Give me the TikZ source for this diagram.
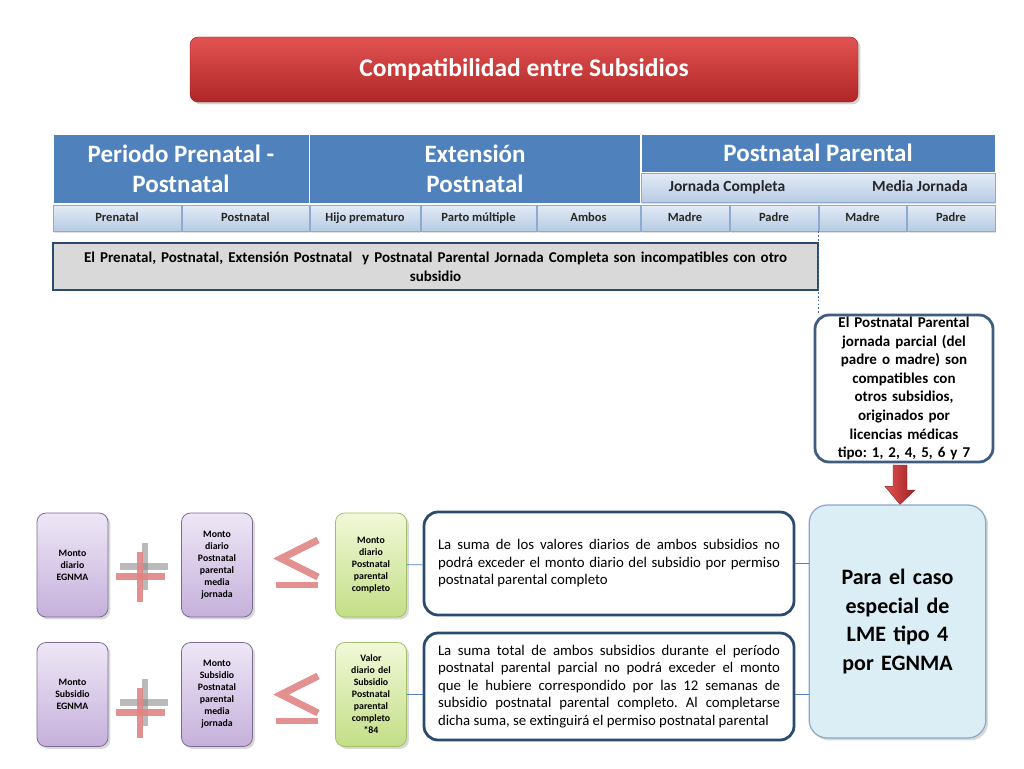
\documentclass[tikz,border=0pt]{standalone}
\usepackage{fontspec}
\setmainfont{Carlito}
\usepackage{xcolor}
\usepackage{tikz}
\usetikzlibrary{shapes,shadows,calc}

\definecolor{titlered1}{HTML}{E25252}
\definecolor{titlered2}{HTML}{B02626}
\definecolor{headblue}{HTML}{4F81BD}
\definecolor{cellblue1}{HTML}{E3EBF6}
\definecolor{cellblue2}{HTML}{B7CBE4}
\definecolor{cellline}{HTML}{8FAAD0}
\definecolor{navy}{HTML}{2B4A70}
\definecolor{graybox}{HTML}{D9D9D9}
\definecolor{lila1}{HTML}{EEE7F6}
\definecolor{lila2}{HTML}{C5B0DB}
\definecolor{lilaline}{HTML}{7D6A96}
\definecolor{lima1}{HTML}{F1F8D8}
\definecolor{lima2}{HTML}{C3DE86}
\definecolor{limaline}{HTML}{A2BF6A}
\definecolor{skyfill}{HTML}{DBEDF5}
\definecolor{skyline}{HTML}{89A8C8}
\definecolor{signpink}{HTML}{E08484}

\newcommand{\fsz}[2]{\fontsize{#1}{#2}\selectfont}
\frenchspacing

\begin{document}
\begin{tikzpicture}[x=1pt,y=-1pt]
		\tikzstyle{titlebox}=[rounded corners=8pt, top color=titlered1, bottom color=titlered2, draw=titlered2!80!black, text=white, font=\fsz{25.5}{30}\bfseries, drop shadow={opacity=0.35}]
		\tikzstyle{head}=[fill=headblue, draw=white, line width=1pt, text=white, align=center, font=\fsz{25}{30}\bfseries]
		\tikzstyle{cell}=[top color=cellblue1, bottom color=cellblue2, draw=cellline, line width=0.6pt, minimum height=26, inner sep=0pt, text height=9pt, text depth=2.5pt, font=\fsz{12.5}{14}\bfseries, text=black!85, drop shadow={opacity=0.25, shadow xshift=1pt, shadow yshift=-1.5pt}]
		\tikzstyle{jtext}=[inner sep=0pt, text height=11pt, text depth=3pt, font=\fsz{15.5}{18}\bfseries, text=black!85]
		\tikzstyle{monto}=[rounded corners=9pt, top color=lila1, bottom color=lila2, draw=lilaline, line width=0.8pt, minimum width=71, minimum height=104, text width=68, align=center, inner sep=0pt, font=\fsz{9.8}{12}\bfseries, drop shadow={opacity=0.3}]
		\tikzstyle{tope}=[monto, top color=lima1, bottom color=lima2, draw=limaline]
		\tikzstyle{regla}=[rounded corners=14pt, draw=navy, line width=2.8pt, fill=white, minimum width=370, text width=342, align=justify, font=\fsz{14.8}{17.5}]
		\tikzstyle{link}=[draw=headblue, line width=0.8pt]
		\tikzstyle{signo}=[fill=signpink, opacity=0.9]
		\tikzstyle{sombra}=[fill=black!45, opacity=0.6]

	\useasboundingbox (0,0) rectangle (1024,768);

	% title
	\node [titlebox, minimum width=668, minimum height=65] (title) at (524,69.5) {Compatibilidad entre Subsidios};

	% header table
	\node [head, minimum width=256, minimum height=69] (prenatal) at (181,168.5) {Periodo Prenatal -\\Postnatal};
	\node [head, minimum width=331, minimum height=69] (extension) at (475,168.5) {Extensión\\Postnatal};
	\node [head, minimum width=354, minimum height=38] (parental) at (818,153) {Postnatal Parental};
	\node [cell, minimum width=354, minimum height=29] (jornadas) at (818,187.5) {};
	\node [jtext] (jc) at (727,187.5) {Jornada Completa};
	\node [jtext] (mj) at (920,187.5) {Media Jornada};

	\foreach \nm/\xa/\xb/\txt in {pre/53/181/Prenatal, post/182/309/Postnatal, hijo/310/420/Hijo prematuro,
		parto/421/536/Parto múltiple, ambos/537/640/Ambos, madreA/641/729/Madre, padreA/730/818/Padre,
		madreB/819/906/Madre, padreB/907/995/Padre}
		\node [cell, minimum width=\xb-\xa] (\nm) at ({(\xa+\xb)/2},218) {\txt};

	% incompatibility note
	\node [draw=navy, line width=2.5pt, fill=graybox, minimum width=765, minimum height=47, text width=755, align=center, inner sep=0pt, font=\fsz{15}{19}\bfseries] (incomp) at (435.5,266.5)
		{El Prenatal, Postnatal, Extensión Postnatal \ y Postnatal Parental Jornada Completa son incompatibles con otro\\subsidio};

	\node [rounded corners=14pt, draw=navy!90, line width=2.8pt, fill=white, minimum width=178, minimum height=147, text width=172, align=center, inner sep=0pt, font=\fsz{15}{18.6}\bfseries] (compat) at (904,388.5)
		{El Postnatal Parental\\jornada parcial (del\\padre o madre) son\\compatibles con\\otros subsidios,\\originados por\\licencias médicas\\tipo: 1, 2, 4, 5, 6 y 7};

	\coordinate (split) at (padreA.south east);
	\draw [headblue!80!black, line width=1.6pt, dash pattern=on 1.6pt off 2.2pt] (split) -- (split |- compat.north);

	% special case
	\node [rounded corners=18pt, fill=skyfill, draw=skyline, line width=1.2pt, minimum width=175, minimum height=233, text width=170, align=center, font=\fsz{22}{28.5}\bfseries, drop shadow={opacity=0.3}] (lme) at (897.5,621.5)
		{Para el caso\\especial de\\LME tipo 4\\por EGNMA};

	\coordinate (arrtop) at (900,465);
	\shade [left color=titlered1, right color=titlered2!90!black, draw=titlered2!80!black, line width=0.4pt]
		(arrtop) ++(-7,0) -- ++(14,0) -- ++(0,25) -- ++(8,0) -- (arrtop |- lme.north) -- ++(-15,-18) -- ++(8,0) -- cycle;

	% first rule
	\node [monto] (egnma1) at (72.5,565) {Monto\\diario\\EGNMA};
	\node [monto] (media1) at (217,565) {Monto\\diario\\Postnatal\\parental\\media\\jornada};
	\node [tope] (completo1) at (371,565) {Monto\\diario\\Postnatal\\parental\\completo};
	\node [regla, minimum height=103] (regla1) at (609,563.5)
		{La suma de los valores diarios de ambos subsidios no\linebreak podrá exceder el monto diario del subsidio por permiso\linebreak postnatal parental completo};

	% second rule
	\node [monto] (egnma2) at (72.5,694.5) {Monto\\Subsidio\\EGNMA};
	\node [monto] (media2) at (217,694.5) {Monto\\Subsidio\\Postnatal\\parental\\media\\jornada};
	\node [tope] (completo2) at (371,694.5) {Valor\\diario del\\Subsidio\\Postnatal\\parental\\completo\\{}*84};
	\node [regla, minimum height=107] (regla2) at (609,686.5)
		{La suma total de ambos subsidios durante el período\linebreak postnatal parental parcial no podrá exceder el monto\linebreak que le hubiere correspondido por las 12 semanas de\linebreak subsidio postnatal parental completo. Al completarse\linebreak dicha suma, se extinguirá el permiso postnatal parental};

	\draw [link] (completo1) -- (regla1);
	\draw [link] (regla1) -- (regla1 -| lme.west);
	\draw [link] (completo2.east) -- (completo2.east -| regla2.west);
	\draw [link] (completo2.east -| regla2.east) -- (completo2.east -| lme.west);

	% plus and less-or-equal signs
	\foreach \dy in {0,136} {
		\begin{scope}[shift={(0,\dy)}]
			\fill [sombra] (142,543) rectangle (148,590);
			\fill [sombra] (120,563) rectangle (168,570);
			\fill [signo] (137,552) rectangle (143,602);
			\fill [signo] (116,573) rectangle (165,580);
			\draw [signpink, opacity=0.9, line width=7pt, line join=miter] (318,540) -- (281,558.5) -- (318,577);
			\fill [signo] (276,582) rectangle (318,588);
		\end{scope}
	}

\end{tikzpicture}
\end{document}
